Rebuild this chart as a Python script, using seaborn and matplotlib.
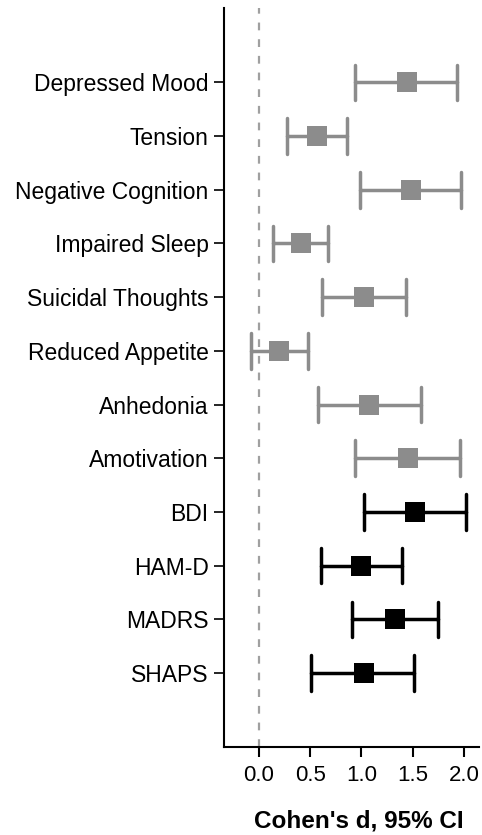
import pandas as pd
import numpy as np
import matplotlib.pyplot as plt
import seaborn as sns

sns.set_style('ticks')
plt.rcParams['font.family'] = ['Liberation Sans', 'DejaVu Sans']
plt.rcParams['text.color'] = 'black'
plt.rcParams['axes.labelcolor'] = 'black'

# Effect sizes (Cohen's d with 95% CI)
labels = ['Depressed Mood', 'Tension', 'Negative Cognition', 'Impaired Sleep',
          'Suicidal Thoughts', 'Reduced Appetite', 'Anhedonia', 'Amotivation',
          'BDI', 'HAM-D', 'MADRS', 'SHAPS']
d_est = [1.44, 0.57, 1.48, 0.41, 1.02, 0.20, 1.07, 1.45, 1.52, 1.00, 1.33, 1.02]
ci_low = [0.94, 0.27, 0.99, 0.14, 0.62, -0.08, 0.58, 0.94, 1.02, 0.61, 0.91, 0.51]
ci_high = [1.93, 0.86, 1.97, 0.67, 1.43, 0.48, 1.58, 1.96, 2.02, 1.39, 1.75, 1.51]
group = ['symptom'] * 8 + ['scale'] * 4

# long form: median of (low, est, high) = est, range = CI
rows = []
for lab, lo, est, hi, g in zip(labels, ci_low, d_est, ci_high, group):
    for v in (lo, est, hi):
        rows.append({'label': lab, 'd': v, 'group': g})
df = pd.DataFrame(rows)

fig = plt.figure(figsize=(4.82, 8.35), dpi=100)
ax = fig.add_axes([0.4647, 0.1054, 0.5301, 0.8846])

ax.axvline(0, color='#a0a0a0', lw=1.6, ls=(0, (3.5, 4)), zorder=0)

sns.pointplot(data=df, x='d', y='label', hue='group', order=labels,
              palette={'symptom': '#8c8c8c', 'scale': 'black'},
              estimator='median', errorbar=lambda v: (v.min(), v.max()),
              markers='s', linestyles='none', markersize=13.7,
              markeredgewidth=0, capsize=0.66, dodge=False,
              err_kws={'linewidth': 2.5},
              legend=False, ax=ax)

ax.set_xlim(-0.34, 2.15)
ax.set_ylim(12.38, -1.38)
ax.set_xticks([0.0, 0.5, 1.0, 1.5, 2.0])
ax.set_xticklabels(['0.0', '0.5', '1.0', '1.5', '2.0'])
ax.tick_params(axis='x', labelsize=16, length=7, width=1.5, pad=6, colors='black')
ax.tick_params(axis='y', labelsize=16.5, length=7, width=1.2, pad=4, colors='black')
ax.set_ylabel('')
ax.set_xlabel("Cohen's d, 95% CI", fontsize=17.5, fontweight='bold', color='black')
ax.xaxis.set_label_coords(0.527, -0.085)

sns.despine(ax=ax)
for s in ['left', 'bottom']:
    ax.spines[s].set_linewidth(1.5)
    ax.spines[s].set_color('black')

fig.savefig('out.png', dpi=100)
